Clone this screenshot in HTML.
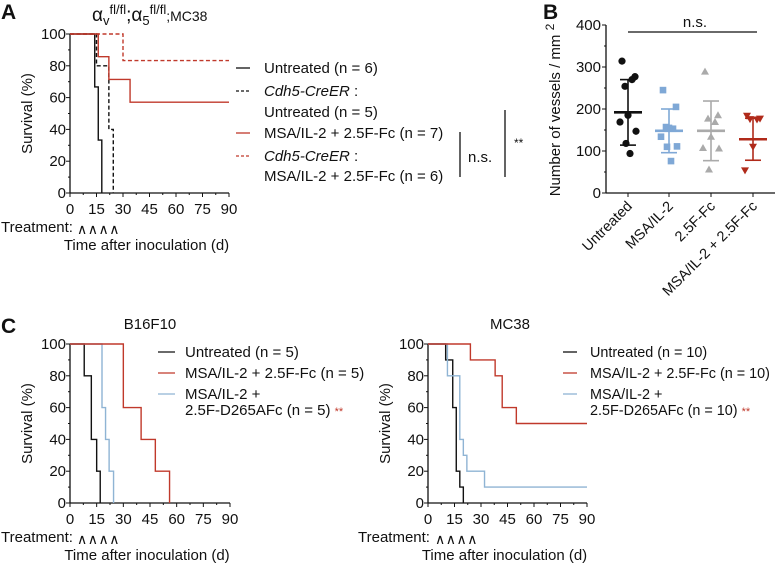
<!DOCTYPE html>
<html><head><meta charset="utf-8"><style>
body{margin:0;background:#fff}
svg{display:block;font-family:"Liberation Sans",Arial,sans-serif}
text{fill:#111}
</style></head><body>
<svg id="fig" width="775" height="563" viewBox="0 0 775 563">
<g id="static">
<text x="1" y="19" font-size="21" font-weight="bold">A</text>
<text x="543" y="19" font-size="21" font-weight="bold">B</text>
<text x="1" y="333" font-size="21" font-weight="bold">C</text>
<text x="92" y="21" font-size="19">α<tspan font-size="13" dy="4">v</tspan><tspan font-size="13" dy="-11">fl/fl</tspan><tspan dy="7">;α</tspan><tspan font-size="13" dy="4">5</tspan><tspan font-size="13" dy="-11">fl/fl</tspan><tspan font-size="14" dy="7">;MC38</tspan></text>
<text x="150" y="329" font-size="15" text-anchor="middle">B16F10</text>
<text x="510" y="329" font-size="15" text-anchor="middle">MC38</text>
<!-- A legend -->
<g font-size="15">
<line x1="236" y1="68" x2="250" y2="68" stroke="#111" stroke-width="1.3"/><text x="264" y="73">Untreated (n = 6)</text>
<line x1="236" y1="91" x2="250" y2="91" stroke="#111" stroke-width="1.3" stroke-dasharray="3,2"/><text x="264" y="96" font-style="italic">Cdh5-CreER<tspan font-style="normal"> :</tspan></text>
<text x="264" y="117">Untreated (n = 5)</text>
<line x1="236" y1="133" x2="250" y2="133" stroke="#c0392b" stroke-width="1.3"/><text x="264" y="138">MSA/IL-2 + 2.5F-Fc (n = 7)</text>
<line x1="236" y1="156" x2="250" y2="156" stroke="#c0392b" stroke-width="1.3" stroke-dasharray="3,2"/><text x="264" y="161" font-style="italic">Cdh5-CreER<tspan font-style="normal"> :</tspan></text>
<text x="264" y="181">MSA/IL-2 + 2.5F-Fc (n = 6)</text>
<line x1="460" y1="132" x2="460" y2="177" stroke="#111" stroke-width="1.3"/>
<text x="468" y="162">n.s.</text>
<line x1="505" y1="110" x2="505" y2="177" stroke="#111" stroke-width="1.3"/>
<text x="514" y="147" font-size="12">**</text>
</g>
<!-- C legends -->
<g font-size="15">
<line x1="158" y1="352" x2="175" y2="352" stroke="#111" stroke-width="1.3"/><text x="185" y="357">Untreated (n  = 5)</text>
<line x1="158" y1="373" x2="175" y2="373" stroke="#c0392b" stroke-width="1.3"/><text x="185" y="378">MSA/IL-2 + 2.5F-Fc (n = 5)</text>
<line x1="158" y1="394" x2="175" y2="394" stroke="#8fb4d4" stroke-width="1.3"/><text x="185" y="399">MSA/IL-2 +</text>
<text x="185" y="415">2.5F-D265AFc (n = 5) <tspan fill="#c0392b" font-size="11">**</tspan></text>
</g>
<g font-size="14.4">
<line x1="563" y1="352" x2="577" y2="352" stroke="#111" stroke-width="1.3"/><text x="590" y="357">Untreated (n  = 10)</text>
<line x1="563" y1="373" x2="577" y2="373" stroke="#c0392b" stroke-width="1.3"/><text x="590" y="378">MSA/IL-2 + 2.5F-Fc (n = 10)</text>
<line x1="563" y1="394" x2="577" y2="394" stroke="#8fb4d4" stroke-width="1.3"/><text x="590" y="399">MSA/IL-2 +</text>
<text x="590" y="415">2.5F-D265AFc (n = 10) <tspan fill="#c0392b" font-size="11">**</tspan></text>
</g>
</g>
</svg>
<script>
// ---- Panel A data ----
const aUntreatedDays=[0,14,16,18];
const aUntreatedSurv=[100,66.7,33.3,0];
const aCdhUntreatedDays=[0,15,22,24.5];
const aCdhUntreatedSurv=[100,80,40,0];
const aTreatedDays=[0,16,22,34,90];
const aTreatedSurv=[100,85.7,71.4,57.1,57.1];
const aCdhTreatedDays=[0,30,90];
const aCdhTreatedSurv=[100,83.3,83.3];
// ---- Panel C B16F10 ----
const bUntreatedDays=[0,8,12,15,17];
const bUntreatedSurv=[100,80,40,20,0];
const bTreatedDays=[0,30,40,48,56];
const bTreatedSurv=[100,60,40,20,0];
const bMutDays=[0,18,20,22,24.5];
const bMutSurv=[100,60,40,20,0];
// ---- Panel C MC38 ----
const mUntreatedDays=[0,10,14,16,18,20];
const mUntreatedSurv=[100,90,60,20,10,0];
const mTreatedDays=[0,24,38,42,50,90];
const mTreatedSurv=[100,90,80,60,50,50];
const mMutDays=[0,11,18,20,22,32,90];
const mMutSurv=[100,80,40,30,20,10,10];
const xTicks=[0,15,30,45,60,75,90];
const yTicks=[0,20,40,60,80,100];
// ---- Panel B data ----
const bCategories=["Untreated","MSA/IL-2","2.5F-Fc","MSA/IL-2 + 2.5F-Fc"];
const vUntreated=[314,277,254,270,185,169,147,118,94];
const vMsa=[245,205,157,153,155,134,111,110,76];
const vFc=[289,185,177,169,134,107,106,56];
const vCombo=[184,177,176,175,110,54];
const bMeans=[192,148,148,128];
const bSD=[78,52,71,50];
const bYTicks=[0,100,200,300,400];

const NS="http://www.w3.org/2000/svg";
const svg=document.getElementById('fig');
function el(t,a,p){const e=document.createElementNS(NS,t);for(const k in a)e.setAttribute(k,a[k]);(p||svg).appendChild(e);return e;}

function survAxes(x0,x1,y0,y1,name,withTreat){
  const g=el('g',{});
  
  
  const sx=d=>x0+(x1-x0)*d/90, sy=v=>y0-(y0-y1)*v/100;
  el('line',{x1:x0,y1:y1,x2:x0,y2:y0,stroke:'#111','stroke-width':1.3},g);
  el('line',{x1:x0,y1:y0,x2:x1,y2:y0,stroke:'#111','stroke-width':1.3},g);
  for(let v=0;v<=100;v+=10){el('line',{x1:x0-(v%20?2:4),y1:sy(v),x2:x0,y2:sy(v),stroke:'#111','stroke-width':1},g);}
  yTicks.forEach(v=>{const t=el('text',{x:x0-4,y:sy(v)+5,'font-size':15,'text-anchor':'end'},g);t.textContent=v;});
  for(let d=0;d<=90;d+=7.5){el('line',{x1:sx(d),y1:y0,x2:sx(d),y2:y0+(d%15?2:4),stroke:'#111','stroke-width':1},g);}
  xTicks.forEach(d=>{const t=el('text',{x:sx(d),y:y0+21,'font-size':15,'text-anchor':'middle'},g);t.textContent=d;});
  const yl=el('text',{x:0,y:0,'font-size':15,'text-anchor':'middle',transform:`translate(${x0-38},${(y0+y1)/2}) rotate(-90)`},g);
  yl.textContent='Survival (%)';
  const tl=el('text',{x:withTreat,y:y0+39,'font-size':15},g);tl.textContent='Treatment:';
  const ca=el('text',{x:x0+7,y:y0+41,'font-size':14,'letter-spacing':'0.5'},g);ca.textContent='\u2227\u2227\u2227\u2227';
  const xl=el('text',{x:(x0+x1)/2-3,y:y0+57,'font-size':15,'text-anchor':'middle'},g);xl.textContent='Time after inoculation (d)';
  return {sx,sy};
}
function step(ax,days,surv,color,dash,name){
  let d=`M${ax.sx(days[0])},${ax.sy(surv[0])}`;
  for(let i=1;i<days.length;i++){d+=` H${ax.sx(days[i])} V${ax.sy(surv[i])}`;}
  const p=el('path',{d,fill:'none',stroke:color,'stroke-width':1.4});
  if(dash)p.setAttribute('stroke-dasharray','4,2.5');
  
  
}
const RED='#c0392b',BLUE='#8fb4d4';
const axA=survAxes(70,229,193,34,'panel-a',1);
step(axA,aUntreatedDays,aUntreatedSurv,'#111',false,'curve-a-untreated');
step(axA,aCdhUntreatedDays,aCdhUntreatedSurv,'#111',true,'curve-a-cdh5-untreated');
step(axA,aTreatedDays,aTreatedSurv,RED,false,'curve-a-treated');
step(axA,aCdhTreatedDays,aCdhTreatedSurv,RED,true,'curve-a-cdh5-treated');
const axB=survAxes(70,230,503,344,'panel-c-b16f10',1);
step(axB,bUntreatedDays,bUntreatedSurv,'#111',false,'curve-b16-untreated');
step(axB,bMutDays,bMutSurv,BLUE,false,'curve-b16-d265a');
step(axB,bTreatedDays,bTreatedSurv,RED,false,'curve-b16-treated');
const axM=survAxes(428,587,503,344,'panel-c-mc38',358);
step(axM,mUntreatedDays,mUntreatedSurv,'#111',false,'curve-mc38-untreated');
step(axM,mMutDays,mMutSurv,BLUE,false,'curve-mc38-d265a');
step(axM,mTreatedDays,mTreatedSurv,RED,false,'curve-mc38-treated');

// Panel B
(function(){
  const x0=606,x1=775,y0=193,y1=25;
  const sy=v=>y0-(y0-y1)*v/400;
  const cx=[628,669,711,753];
  const g=el('g',{});
  
  
  el('line',{x1:x0,y1:y1,x2:x0,y2:y0,stroke:'#111','stroke-width':1.3},g);
  el('line',{x1:x0,y1:y0,x2:x1,y2:y0,stroke:'#111','stroke-width':1.3},g);
  for(let v=0;v<=400;v+=50)el('line',{x1:x0-(v%100?2:4),y1:sy(v),x2:x0,y2:sy(v),stroke:'#111'},g);
  bYTicks.forEach(v=>{const t=el('text',{x:x0-5,y:sy(v)+5,'font-size':15,'text-anchor':'end'},g);t.textContent=v;});
  cx.forEach(x=>el('line',{x1:x,y1:y0,x2:x,y2:y0+4,stroke:'#111'},g));
  bCategories.forEach((c,i)=>{const t=el('text',{x:0,y:0,'font-size':14.5,'text-anchor':'end',transform:`translate(${cx[i]+5},${y0+14}) rotate(-45)`},g);t.textContent=c;});
  const yl=el('text',{x:0,y:0,'font-size':15,'text-anchor':'middle',transform:`translate(560,110) rotate(-90)`},g);
  yl.innerHTML='Number of vessels / mm <tspan dy="-6" font-size="12">2</tspan>';
  el('line',{x1:628,y1:32,x2:757,y2:32,stroke:'#111','stroke-width':1.3},g);
  const ns=el('text',{x:695,y:27,'font-size':15,'text-anchor':'middle'},g);ns.textContent='n.s.';
  const series=[vUntreated,vMsa,vFc,vCombo];
  const cols=['#111','#7fa8d6','#aaaaaa','#b02a1a'];
  const jit=[-6,7,-3,4,0,-8,8,-2,2,5];
  series.forEach((vals,i)=>{
    const c=cols[i];
    const eb=el('g',{stroke:c,'stroke-width':1.6});
    
    
    el('line',{x1:cx[i],y1:sy(bMeans[i]-bSD[i]),x2:cx[i],y2:sy(bMeans[i]+bSD[i])},eb);
    el('line',{x1:cx[i]-8,y1:sy(bMeans[i]+bSD[i]),x2:cx[i]+8,y2:sy(bMeans[i]+bSD[i])},eb);
    el('line',{x1:cx[i]-8,y1:sy(bMeans[i]-bSD[i]),x2:cx[i]+8,y2:sy(bMeans[i]-bSD[i])},eb);
    vals.forEach((v,j)=>{
      const x=cx[i]+jit[j%jit.length],y=sy(v);let m;
      if(i===0)m=el('circle',{cx:x,cy:y,r:3.6,fill:c});
      else if(i===1)m=el('rect',{x:x-3.3,y:y-3.3,width:6.6,height:6.6,fill:c});
      else if(i===2)m=el('path',{d:`M${x},${y-4} L${x+4},${y+3} L${x-4},${y+3}Z`,fill:c});
      else m=el('path',{d:`M${x},${y+4} L${x+4},${y-3} L${x-4},${y-3}Z`,fill:c});
      
      
    });
    const mn=el('line',{x1:cx[i]-14,y1:sy(bMeans[i]),x2:cx[i]+14,y2:sy(bMeans[i]),stroke:c,'stroke-width':2.6});
    
    
  });
})();
</script>
</body></html>
